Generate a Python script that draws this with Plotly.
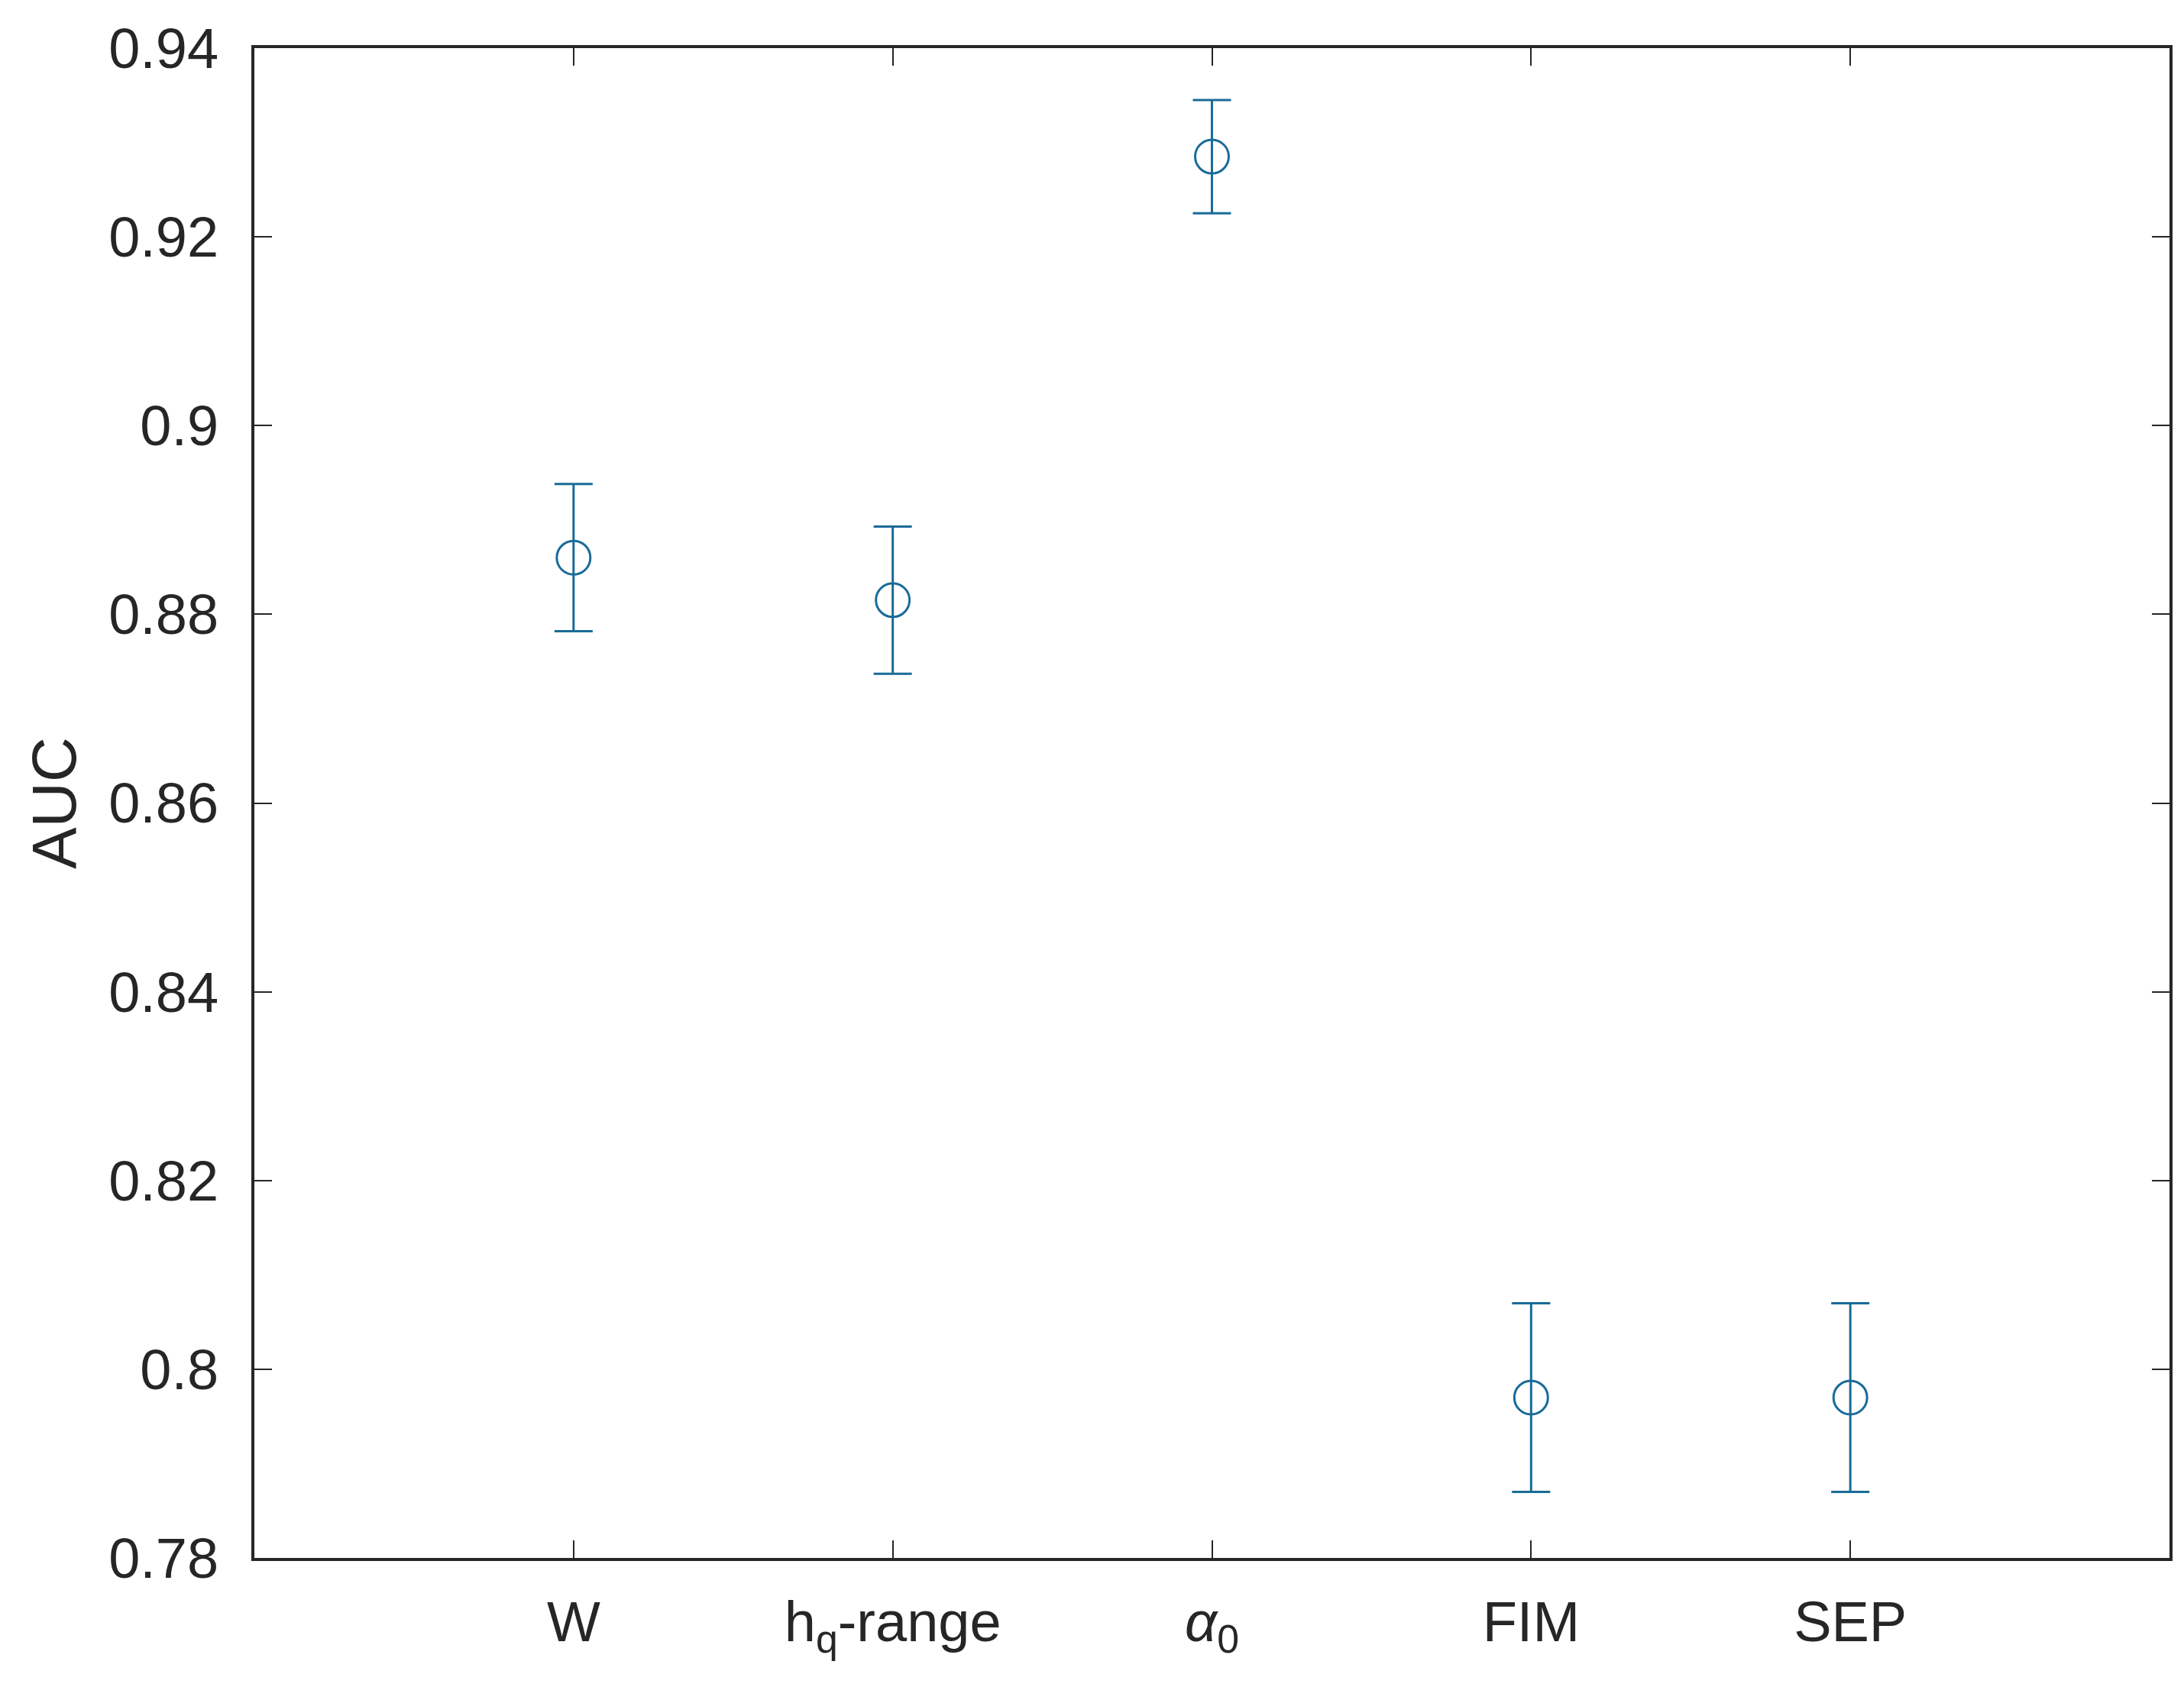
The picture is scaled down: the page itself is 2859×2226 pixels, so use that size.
import plotly.graph_objects as go

# categories and AUC values
categories = ['W', 'h<sub>q</sub>-range', '<i>α</i><sub>0</sub>', 'FIM', 'SEP']
positions = [1, 2, 3, 4, 5]
auc_mean = [0.8860, 0.8815, 0.9285, 0.7970, 0.7970]
auc_err = [0.0078, 0.0078, 0.0060, 0.0100, 0.0100]

y_ticks = [0.78, 0.80, 0.82, 0.84, 0.86, 0.88, 0.90, 0.92, 0.94]
y_ticklabels = ['0.78', '0.8', '0.82', '0.84', '0.86', '0.88', '0.9', '0.92', '0.94']

line_color = '#1a6b98'
axis_color = '#262626'
font_family = 'Liberation Sans, Arial, sans-serif'

fig = go.Figure()

fig.add_trace(go.Scatter(
    x=positions,
    y=auc_mean,
    mode='markers',
    marker=dict(symbol='circle-open', size=44, color=line_color,
                line=dict(width=3, color=line_color)),
    error_y=dict(type='data', array=auc_err, symmetric=True,
                 color=line_color, thickness=3, width=25),
    showlegend=False))

axis_common = dict(showline=True, linecolor=axis_color, linewidth=4, mirror='ticks',
                   ticks='inside', ticklen=23, tickwidth=2, tickcolor=axis_color,
                   showgrid=False, zeroline=False,
                   tickfont=dict(family=font_family, size=74, color=axis_color))

fig.update_xaxes(range=[0, 6], tickmode='array', tickvals=positions, ticktext=categories,
                 ticklabelstandoff=16, **axis_common)
fig.update_yaxes(range=[0.78, 0.94], tickmode='array', tickvals=y_ticks, ticktext=y_ticklabels,
                 ticklabelstandoff=28, **axis_common)

fig.update_layout(
    width=2859, height=2226,
    margin=dict(l=325, r=27, t=55, b=194),
    paper_bgcolor='white', plot_bgcolor='white',
    yaxis_title=dict(text='AUC', standoff=16,
                     font=dict(family=font_family, size=82, color=axis_color)),
)

fig.write_html("out.html")
